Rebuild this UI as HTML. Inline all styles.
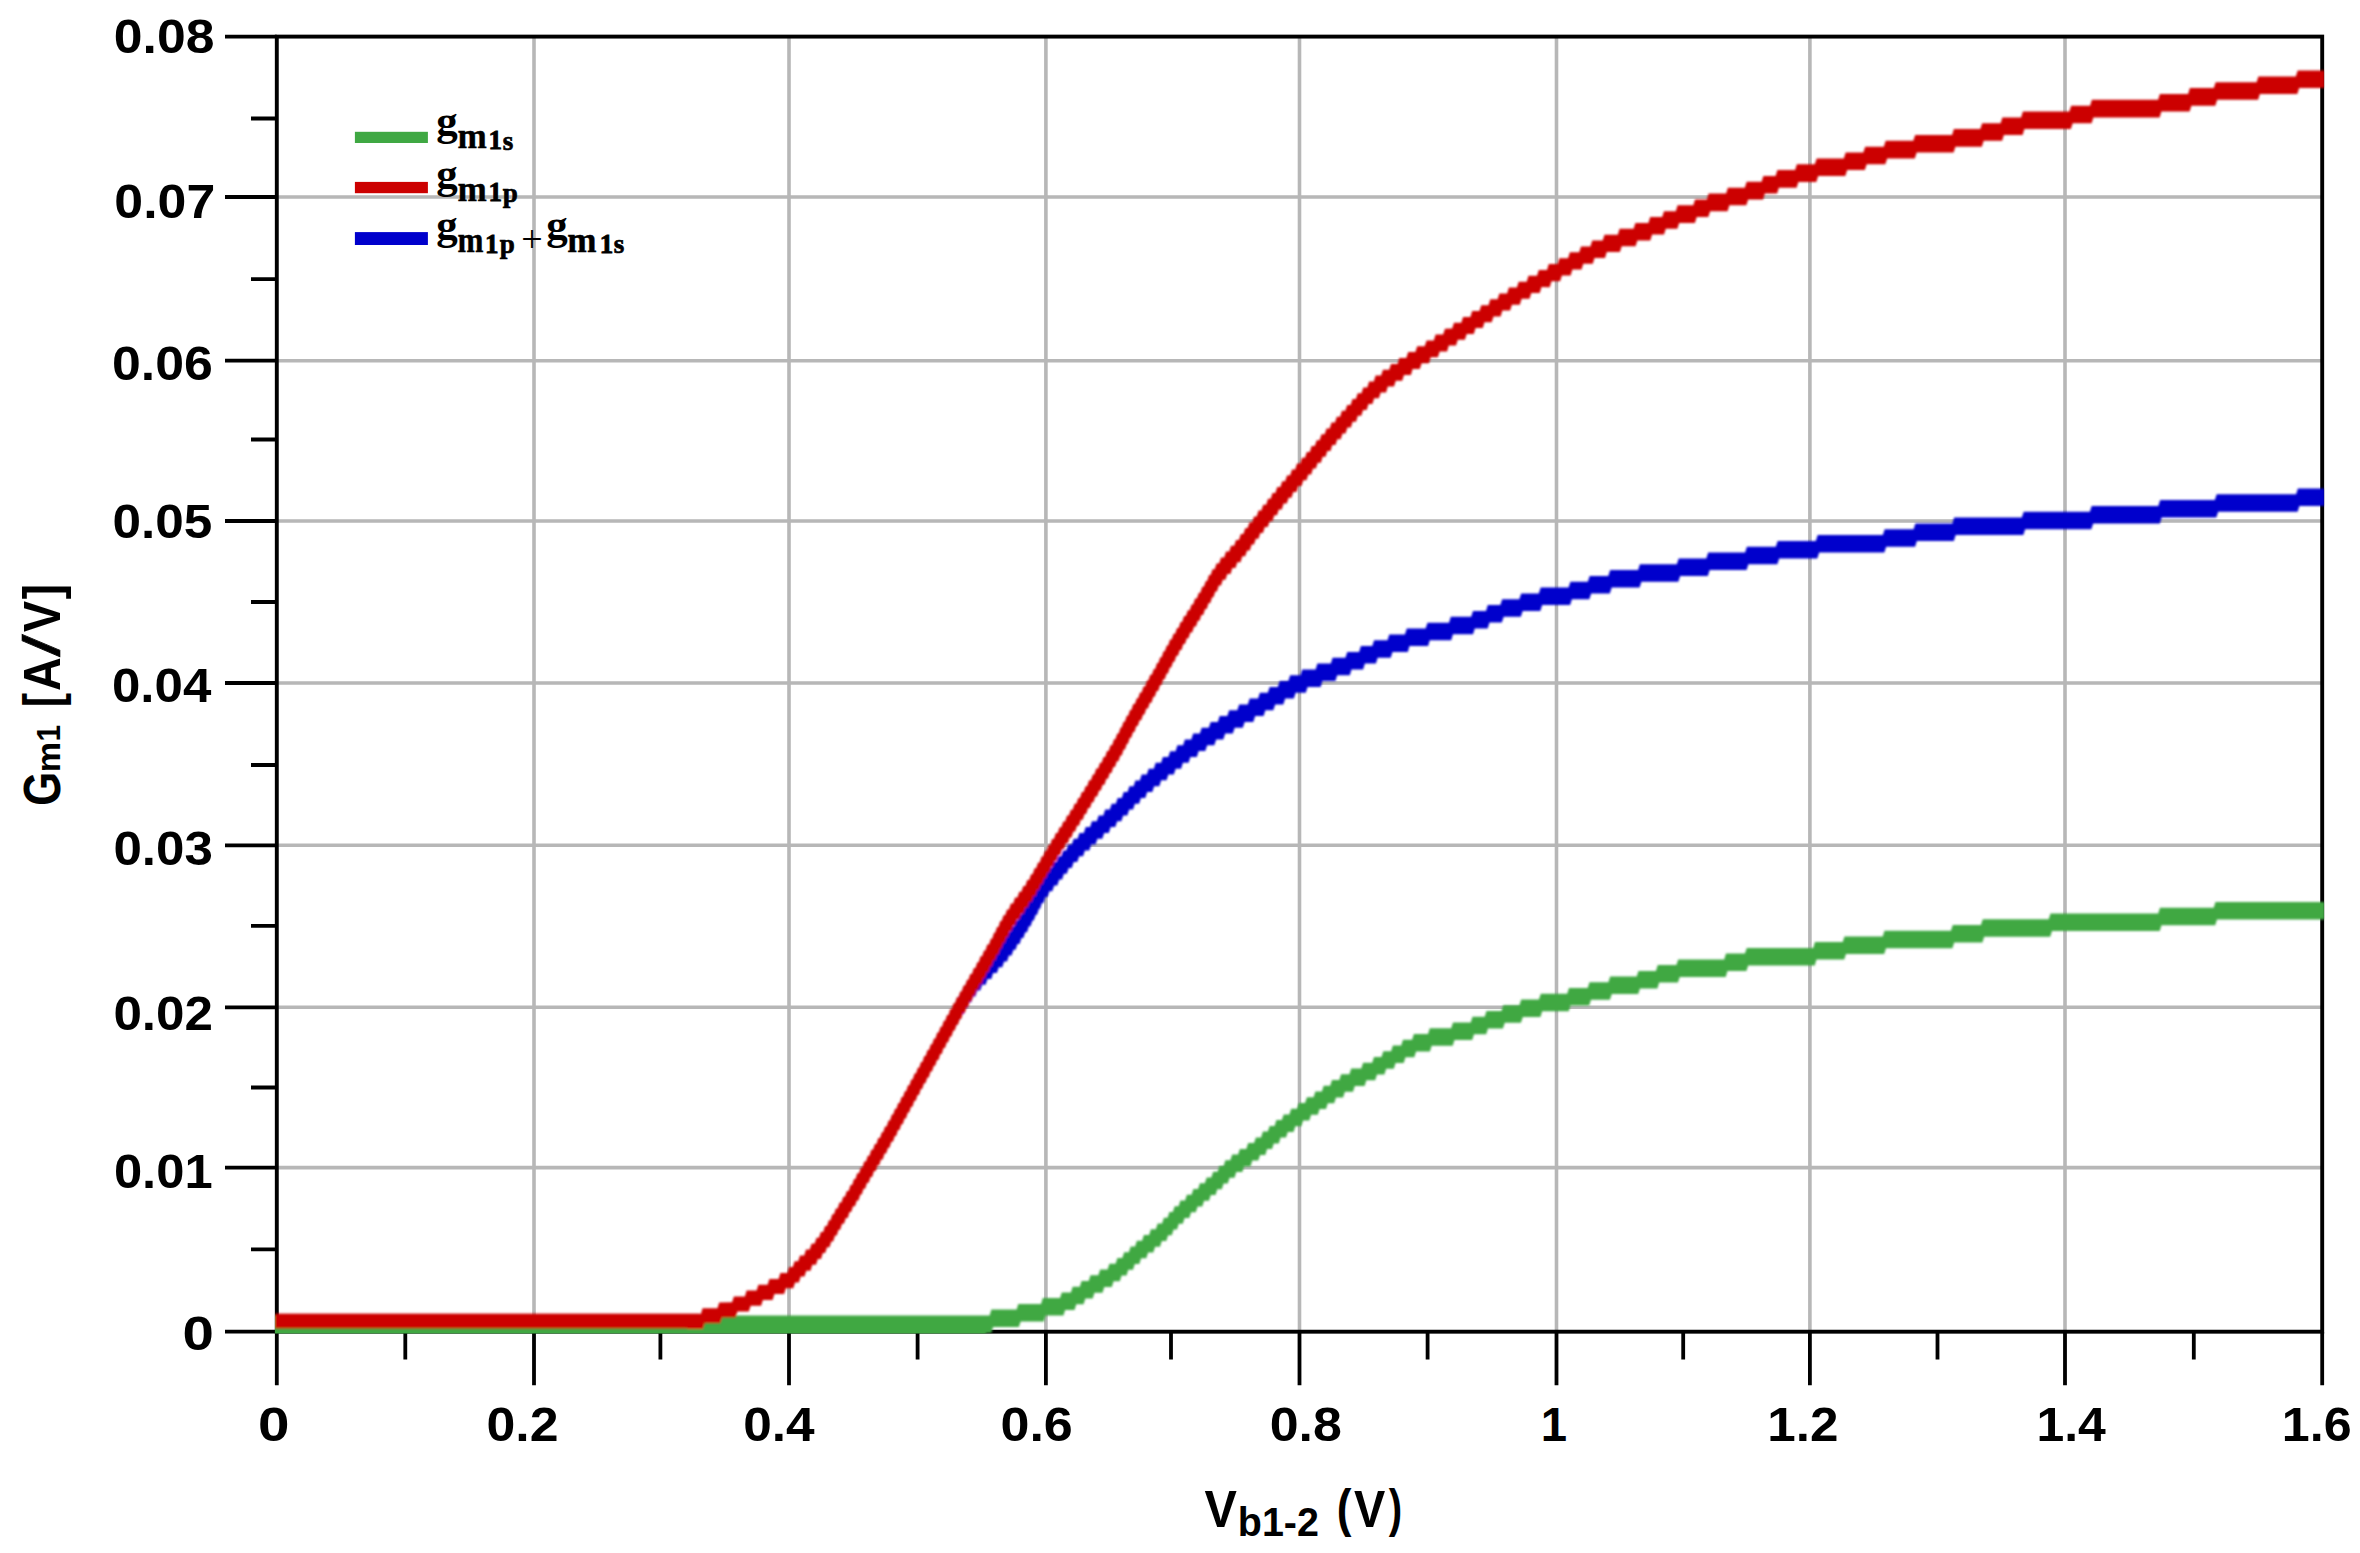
<!DOCTYPE html>
<html lang="en"><head><meta charset="utf-8"><title>Gm1 vs Vb1-2</title>
<style>html,body{margin:0;padding:0;background:#fff;overflow:hidden}svg{display:block}</style></head>
<body>
<svg width="2360" height="1553" viewBox="0 0 2360 1553">
<rect width="2360" height="1553" fill="#fff"/>
<defs><filter id="soft" x="0" y="0" width="2360" height="1553" filterUnits="userSpaceOnUse"><feGaussianBlur stdDeviation="1.1"/></filter><clipPath id="plot"><rect x="274.9" y="0" width="2049.3" height="1333.6"/></clipPath></defs>
<path d="M534 36.6 V1331.7 M789 36.6 V1331.7 M1045.9 36.6 V1331.7 M1299.5 36.6 V1331.7 M1556.5 36.6 V1331.7 M1809.9 36.6 V1331.7 M2065 36.6 V1331.7 M276.8 197 H2322.2 M276.8 360.7 H2322.2 M276.8 521 H2322.2 M276.8 683 H2322.2 M276.8 845.3 H2322.2 M276.8 1007.3 H2322.2 M276.8 1167.6 H2322.2" stroke="#b7b7b7" stroke-width="3.6" fill="none"/>
<rect x="276.8" y="36.6" width="2045.4" height="1295.1" fill="none" stroke="#000" stroke-width="3.9"/>
<path d="M225 36.6 H276.8 M225 197 H276.8 M225 360.7 H276.8 M225 521 H276.8 M225 683 H276.8 M225 845.3 H276.8 M225 1007.3 H276.8 M225 1167.6 H276.8 M225 1331.7 H276.8 M251 118.5 H276.8 M251 279.1 H276.8 M251 439.5 H276.8 M251 602 H276.8 M251 765 H276.8 M251 925.8 H276.8 M251 1087.5 H276.8 M251 1249.4 H276.8 M276.8 1331.7 V1385.3 M534 1331.7 V1385.3 M789 1331.7 V1385.3 M1045.9 1331.7 V1385.3 M1299.5 1331.7 V1385.3 M1556.5 1331.7 V1385.3 M1809.9 1331.7 V1385.3 M2065 1331.7 V1385.3 M2322.2 1331.7 V1385.3 M405.3 1331.7 V1359.5 M660.4 1331.7 V1359.5 M917.6 1331.7 V1359.5 M1171 1331.7 V1359.5 M1427.6 1331.7 V1359.5 M1683.2 1331.7 V1359.5 M1937.5 1331.7 V1359.5 M2193.8 1331.7 V1359.5" stroke="#000" stroke-width="3.8" fill="none"/>
<g clip-path="url(#plot)"><g filter="url(#soft)">
<path d="M269.1 1332.9 L269.1 1315.4 L989.6 1315.4 L991.4 1309.6 L1016.6 1309.6 L1018.3 1303.9 L1041 1303.9 L1042.8 1298.1 L1060 1298.1 L1061.8 1292.4 L1070.9 1292.4 L1072.7 1286.7 L1079.8 1286.7 L1081.6 1280.9 L1088.7 1280.9 L1090.5 1275.2 L1098.3 1275.2 L1100.2 1269.4 L1107.6 1269.4 L1109.4 1263.7 L1115.6 1263.7 L1117.4 1258 L1122.3 1258 L1124.2 1252.2 L1128.8 1252.2 L1130.7 1246.5 L1135.1 1246.5 L1136.9 1240.7 L1142.1 1240.7 L1143.9 1235 L1149.1 1235 L1150.9 1229.2 L1155.8 1229.2 L1157.7 1223.5 L1162.1 1223.5 L1163.9 1217.8 L1167.6 1217.8 L1169.4 1212 L1172.8 1212 L1174.7 1206.3 L1178.6 1206.3 L1180.4 1200.5 L1185.1 1200.5 L1186.9 1194.8 L1191.6 1194.8 L1193.4 1189.1 L1198.1 1189.1 L1199.9 1183.3 L1204.8 1183.3 L1206.7 1177.6 L1211.3 1177.6 L1213.2 1171.8 L1217.6 1171.8 L1219.4 1166.1 L1223.6 1166.1 L1225.4 1160.3 L1230.3 1160.3 L1232.2 1154.6 L1238.1 1154.6 L1239.9 1148.9 L1246.3 1148.9 L1248.2 1143.1 L1254.1 1143.1 L1255.9 1137.4 L1261.1 1137.4 L1262.9 1131.6 L1267.8 1131.6 L1269.7 1125.9 L1274.6 1125.9 L1276.4 1120.1 L1281.8 1120.1 L1283.7 1114.4 L1289.3 1114.4 L1291.2 1108.7 L1297.1 1108.7 L1298.9 1102.9 L1305.1 1102.9 L1306.9 1097.2 L1313.6 1097.2 L1315.4 1091.4 L1321.9 1091.4 L1323.7 1085.7 L1330.2 1085.7 L1332 1080 L1339.3 1080 L1341.1 1074.2 L1349.4 1074.2 L1351.2 1068.5 L1361.3 1068.5 L1363.1 1062.7 L1372.2 1062.7 L1374 1057 L1381.5 1057 L1383.3 1051.2 L1391.1 1051.2 L1392.9 1045.5 L1401.2 1045.5 L1403 1039.8 L1412.1 1039.8 L1413.9 1034 L1428 1034 L1429.8 1028.3 L1451.2 1028.3 L1453 1022.5 L1470.7 1022.5 L1472.5 1016.8 L1484.7 1016.8 L1486.5 1011 L1501.4 1011 L1503.2 1005.3 L1519.4 1005.3 L1521.2 999.6 L1538.9 999.6 L1540.8 993.8 L1567.2 993.8 L1569 988.1 L1587.7 988.1 L1589.5 982.3 L1608.4 982.3 L1610.2 976.6 L1636.7 976.6 L1638.5 970.9 L1655.9 970.9 L1657.8 965.1 L1676.4 965.1 L1678.2 959.4 L1724.2 959.4 L1726 953.6 L1744.9 953.6 L1746.8 947.9 L1813.2 947.9 L1815 942.1 L1842.7 942.1 L1844.5 936.4 L1882.7 936.4 L1884.5 930.7 L1950.9 930.7 L1952.8 924.9 L1980.9 924.9 L1982.8 919.2 L2048.7 919.2 L2050.5 913.4 L2158.2 913.4 L2160 907.7 L2213.7 907.7 L2215.5 902 L2323.3 902 L2324.8 902 L2324.8 919.5 L2217 919.5 L2215.2 925.2 L2161.5 925.2 L2159.7 930.9 L2052 930.9 L2050.2 936.7 L1984.2 936.7 L1982.4 942.4 L1954.2 942.4 L1952.4 948.2 L1886 948.2 L1884.2 953.9 L1846 953.9 L1844.2 959.6 L1816.5 959.6 L1814.7 965.4 L1748.2 965.4 L1746.4 971.1 L1727.5 971.1 L1725.7 976.9 L1679.8 976.9 L1677.9 982.6 L1659.2 982.6 L1657.4 988.4 L1640 988.4 L1638.2 994.1 L1611.8 994.1 L1609.9 999.8 L1591 999.8 L1589.2 1005.6 L1570.5 1005.6 L1568.7 1011.3 L1542.2 1011.3 L1540.4 1017.1 L1522.8 1017.1 L1520.9 1022.8 L1504.8 1022.8 L1502.9 1028.5 L1488 1028.5 L1486.2 1034.3 L1474 1034.3 L1472.2 1040 L1454.5 1040 L1452.7 1045.8 L1431.7 1045.8 L1429.9 1051.5 L1416.1 1051.5 L1414.3 1057.3 L1405.5 1057.3 L1403.7 1063 L1395.6 1063 L1393.8 1068.7 L1386.2 1068.7 L1384.4 1074.5 L1377 1074.5 L1375.2 1080.2 L1366.4 1080.2 L1364.6 1086 L1354.8 1086 L1353 1091.7 L1344.9 1091.7 L1343.1 1097.5 L1336 1097.5 L1334.2 1103.2 L1327.8 1103.2 L1326 1108.9 L1319.6 1108.9 L1317.8 1114.7 L1311.1 1114.7 L1309.3 1120.4 L1303.1 1120.4 L1301.3 1126.2 L1295.3 1126.2 L1293.5 1131.9 L1287.8 1131.9 L1286 1137.6 L1280.6 1137.6 L1278.8 1143.4 L1273.8 1143.4 L1272 1149.1 L1267.1 1149.1 L1265.3 1154.9 L1260.1 1154.9 L1258.3 1160.6 L1252.3 1160.6 L1250.5 1166.4 L1244.1 1166.4 L1242.3 1172.1 L1236.3 1172.1 L1234.5 1177.8 L1229.6 1177.8 L1227.8 1183.6 L1223.6 1183.6 L1221.8 1189.3 L1217.3 1189.3 L1215.5 1195.1 L1210.8 1195.1 L1209 1200.8 L1204.1 1200.8 L1202.3 1206.6 L1197.6 1206.6 L1195.8 1212.3 L1191.1 1212.3 L1189.3 1218 L1184.6 1218 L1182.8 1223.8 L1178.8 1223.8 L1177 1229.5 L1173.6 1229.5 L1171.8 1235.3 L1168.1 1235.3 L1166.3 1241 L1161.8 1241 L1160 1246.7 L1155.1 1246.7 L1153.3 1252.5 L1148.1 1252.5 L1146.3 1258.2 L1141.1 1258.2 L1139.3 1264 L1134.8 1264 L1133 1269.7 L1128.3 1269.7 L1126.5 1275.5 L1121.6 1275.5 L1119.8 1281.2 L1113.6 1281.2 L1111.8 1286.9 L1104.3 1286.9 L1102.5 1292.7 L1094.5 1292.7 L1092.7 1298.4 L1085.4 1298.4 L1083.6 1304.2 L1076.3 1304.2 L1074.5 1309.9 L1065.2 1309.9 L1063.4 1315.6 L1045.7 1315.6 L1043.9 1321.4 L1020.7 1321.4 L1018.8 1327.1 L993.1 1327.1 L991.3 1332.9 L270.6 1332.9Z" fill="#3fa843"/>
<rect x="268.9" y="1326" width="717.1" height="12" fill="#3fa843"/>
<path d="M953.5 1025.6 L953.5 1008.1 L953.4 1008.1 L955.1 1002.3 L956.8 1002.3 L958.5 996.4 L960.4 996.4 L962.2 990.6 L963.8 990.6 L965.6 984.8 L967.5 984.8 L969.2 978.9 L971.3 978.9 L973.1 973.1 L976 973.1 L977.7 967.2 L981.1 967.2 L982.8 961.4 L986.4 961.4 L988.2 955.5 L991.8 955.5 L993.5 949.7 L996.9 949.7 L998.6 943.9 L1001.6 943.9 L1003.4 938 L1006.1 938 L1007.9 932.2 L1010.1 932.2 L1011.9 926.4 L1014.1 926.4 L1015.9 920.5 L1017.9 920.5 L1019.6 914.7 L1021.6 914.7 L1023.4 908.8 L1025.1 908.8 L1026.9 903 L1028.3 903 L1030.2 897.2 L1031.6 897.2 L1033.4 891.3 L1034.6 891.3 L1036.4 885.5 L1038.1 885.5 L1039.9 879.6 L1042.1 879.6 L1043.9 873.8 L1046.8 873.8 L1048.7 868 L1051.8 868 L1053.7 862.1 L1056.6 862.1 L1058.4 856.3 L1061.3 856.3 L1063.2 850.4 L1066.3 850.4 L1068.2 844.6 L1071.8 844.6 L1073.7 838.8 L1077.6 838.8 L1079.4 832.9 L1083.8 832.9 L1085.7 827.1 L1090.1 827.1 L1091.9 821.2 L1096.8 821.2 L1098.7 815.4 L1103.3 815.4 L1105.2 809.5 L1109.8 809.5 L1111.7 803.7 L1115.8 803.7 L1117.7 797.9 L1121.8 797.9 L1123.7 792 L1127.6 792 L1129.4 786.2 L1133.6 786.2 L1135.4 780.4 L1139.8 780.4 L1141.7 774.5 L1146.8 774.5 L1148.7 768.7 L1153.8 768.7 L1155.7 762.8 L1161.1 762.8 L1162.9 757 L1168.3 757 L1170.2 751.2 L1175.6 751.2 L1177.4 745.3 L1183.1 745.3 L1184.9 739.5 L1191.3 739.5 L1193.2 733.6 L1199.8 733.6 L1201.7 727.8 L1208.8 727.8 L1210.7 722 L1217.8 722 L1219.7 716.1 L1227.3 716.1 L1229.2 710.3 L1237.3 710.3 L1239.2 704.4 L1247.8 704.4 L1249.7 698.6 L1258.1 698.6 L1259.9 692.8 L1267.8 692.8 L1269.7 686.9 L1277.8 686.9 L1279.7 681.1 L1288.3 681.1 L1290.2 675.2 L1300.4 675.2 L1302.2 669.4 L1315.6 669.4 L1317.4 663.5 L1330.8 663.5 L1332.6 657.7 L1345.4 657.7 L1347.3 651.9 L1359.1 651.9 L1360.9 646 L1372.3 646 L1374.1 640.2 L1387.5 640.2 L1389.3 634.4 L1404.9 634.4 L1406.8 628.5 L1425.6 628.5 L1427.5 622.7 L1449 622.7 L1450.8 616.8 L1471.2 616.8 L1473 611 L1486 611 L1487.8 605.1 L1500.3 605.1 L1502.2 599.3 L1519.3 599.3 L1521.2 593.5 L1538.8 593.5 L1540.7 587.6 L1568.6 587.6 L1570.4 581.8 L1587.8 581.8 L1589.7 576 L1608.3 576 L1610.2 570.1 L1638.1 570.1 L1639.9 564.3 L1676.8 564.3 L1678.7 558.4 L1706.3 558.4 L1708.2 552.6 L1745.1 552.6 L1746.9 546.8 L1775.8 546.8 L1777.7 540.9 L1815.8 540.9 L1817.7 535.1 L1882.8 535.1 L1884.7 529.2 L1913.6 529.2 L1915.4 523.4 L1952.3 523.4 L1954.2 517.6 L2021.8 517.6 L2023.7 511.7 L2089.8 511.7 L2091.7 505.9 L2158.3 505.9 L2160.2 500 L2214.8 500 L2216.7 494.2 L2296.1 494.2 L2297.9 488.4 L2323.2 488.4 L2324.8 488.4 L2324.8 505.9 L2299.4 505.9 L2297.6 511.7 L2218.2 511.7 L2216.3 517.5 L2161.7 517.5 L2159.8 523.4 L2093.2 523.4 L2091.3 529.2 L2025.2 529.2 L2023.3 535.1 L1955.7 535.1 L1953.8 540.9 L1916.9 540.9 L1915.1 546.7 L1886.2 546.7 L1884.3 552.6 L1819.2 552.6 L1817.3 558.4 L1779.2 558.4 L1777.3 564.2 L1748.4 564.2 L1746.6 570.1 L1709.7 570.1 L1707.8 575.9 L1680.2 575.9 L1678.3 581.8 L1641.4 581.8 L1639.6 587.6 L1611.7 587.6 L1609.8 593.5 L1591.2 593.5 L1589.3 599.3 L1571.9 599.3 L1570.1 605.1 L1542.2 605.1 L1540.3 611 L1522.7 611 L1520.8 616.8 L1503.7 616.8 L1501.8 622.6 L1489.5 622.6 L1487.7 628.5 L1474.8 628.5 L1473 634.3 L1453 634.3 L1451.2 640.2 L1429.8 640.2 L1428.1 646 L1409.5 646 L1407.8 651.9 L1392.5 651.9 L1390.7 657.7 L1377.7 657.7 L1375.9 663.5 L1364.9 663.5 L1363.1 669.4 L1351.5 669.4 L1349.8 675.2 L1337.2 675.2 L1335.4 681 L1322.4 681 L1320.6 686.9 L1307.6 686.9 L1305.8 692.7 L1295.7 692.7 L1293.8 698.6 L1285.2 698.6 L1283.3 704.4 L1275.2 704.4 L1273.3 710.2 L1265.4 710.2 L1263.6 716.1 L1255.2 716.1 L1253.3 721.9 L1244.7 721.9 L1242.8 727.8 L1234.7 727.8 L1232.8 733.6 L1225.2 733.6 L1223.3 739.5 L1216.2 739.5 L1214.3 745.3 L1207.2 745.3 L1205.3 751.1 L1198.7 751.1 L1196.8 757 L1190.4 757 L1188.6 762.8 L1182.9 762.8 L1181.1 768.7 L1175.7 768.7 L1173.8 774.5 L1168.4 774.5 L1166.6 780.3 L1161.2 780.3 L1159.3 786.2 L1154.2 786.2 L1152.3 792 L1147.2 792 L1145.3 797.9 L1140.9 797.9 L1139.1 803.7 L1134.9 803.7 L1133.1 809.5 L1129.2 809.5 L1127.3 815.4 L1123.2 815.4 L1121.3 821.2 L1117.2 821.2 L1115.3 827 L1110.7 827 L1108.8 832.9 L1104.2 832.9 L1102.3 838.7 L1097.4 838.7 L1095.6 844.6 L1091.2 844.6 L1089.3 850.4 L1084.9 850.4 L1083.1 856.2 L1079.2 856.2 L1077.3 862.1 L1073.7 862.1 L1071.8 867.9 L1068.7 867.9 L1066.8 873.8 L1063.9 873.8 L1062.1 879.6 L1059.2 879.6 L1057.3 885.5 L1054.2 885.5 L1052.3 891.3 L1049.4 891.3 L1047.6 897.1 L1045.4 897.1 L1043.6 903 L1041.9 903 L1040.1 908.8 L1038.9 908.8 L1037.1 914.7 L1035.7 914.7 L1033.8 920.5 L1032.4 920.5 L1030.6 926.3 L1028.9 926.3 L1027.1 932.2 L1025.2 932.2 L1023.4 938 L1021.4 938 L1019.6 943.9 L1017.4 943.9 L1015.6 949.7 L1013.4 949.7 L1011.6 955.5 L1008.9 955.5 L1007.1 961.4 L1004.1 961.4 L1002.3 967.2 L998.8 967.2 L996.9 973 L993.1 973 L991.3 978.9 L987.5 978.9 L985.6 984.7 L982.1 984.7 L980.2 990.6 L977.2 990.6 L975.4 996.4 L973.1 996.4 L971.2 1002.2 L969.2 1002.2 L967.4 1008.1 L965.6 1008.1 L963.8 1013.9 L961.8 1013.9 L959.9 1019.8 L958.2 1019.8 L956.4 1025.6 L956.5 1025.6Z" fill="#0000cc"/>
<rect x="274.9" y="1313.6" width="425.1" height="14.8" fill="#cc0000"/>
<path d="M687.2 1329.1 L687.2 1314.1 L700.8 1314.1 L702.6 1308.2 L717.5 1308.2 L719.2 1302.4 L732.1 1302.3 L733.9 1296.5 L744.9 1296.5 L746.6 1290.6 L756.6 1290.6 L758.4 1284.7 L767.6 1284.7 L769.4 1278.9 L778.6 1278.9 L780.4 1273 L787.4 1273 L789.2 1267.1 L792.8 1267.1 L794.6 1261.3 L798.2 1261.2 L800 1255.4 L804.2 1255.4 L806 1249.5 L809.7 1249.5 L811.5 1243.7 L814.7 1243.6 L816.5 1237.8 L819 1237.8 L820.8 1231.9 L823.2 1231.9 L825 1226.1 L827 1226.1 L828.8 1220.2 L830.5 1220.2 L832.2 1214.3 L834 1214.3 L835.8 1208.5 L837.7 1208.5 L839.5 1202.6 L841.5 1202.6 L843.2 1196.7 L845 1196.7 L846.8 1190.9 L848.7 1190.9 L850.5 1185 L852.2 1185 L854 1179.1 L855.5 1179.1 L857.2 1173.3 L859 1173.3 L860.8 1167.4 L862.5 1167.4 L864.2 1161.5 L866 1161.5 L867.8 1155.7 L869.5 1155.7 L871.2 1149.8 L873 1149.8 L874.8 1144 L876.5 1144 L878.2 1138.1 L880 1138.1 L881.8 1132.2 L883.2 1132.2 L885 1126.4 L886.7 1126.4 L888.5 1120.5 L890 1120.5 L891.8 1114.6 L893.2 1114.6 L895 1108.8 L896.5 1108.8 L898.2 1102.9 L899.7 1102.9 L901.5 1097 L903 1097 L904.8 1091.2 L906.2 1091.2 L908 1085.3 L909.5 1085.3 L911.2 1079.5 L912.7 1079.4 L914.5 1073.6 L916 1073.6 L917.8 1067.7 L919.2 1067.7 L921 1061.9 L922.5 1061.9 L924.2 1056 L925.7 1056 L927.5 1050.1 L929 1050.1 L930.8 1044.3 L932.2 1044.3 L934 1038.4 L935.5 1038.4 L937.2 1032.5 L938.7 1032.5 L940.5 1026.7 L942 1026.7 L943.8 1020.8 L945.2 1020.8 L947 1014.9 L948.5 1014.9 L950.2 1009.1 L951.7 1009.1 L953.5 1003.2 L955 1003.2 L956.8 997.3 L958.5 997.3 L960.2 991.5 L961.7 991.5 L963.5 985.6 L965.2 985.6 L967 979.8 L968.5 979.8 L970.2 973.9 L972 973.9 L973.8 968 L975.5 968 L977.2 962.2 L978.7 962.2 L980.5 956.3 L982.2 956.3 L984 950.4 L985.5 950.4 L987.2 944.6 L989 944.6 L990.8 938.7 L992.2 938.7 L994 932.8 L995.2 932.8 L997 927 L998.5 927 L1000.2 921.1 L1001.7 921.1 L1003.5 915.2 L1005.2 915.2 L1007 909.4 L1009 909.4 L1010.8 903.5 L1013.2 903.5 L1015 897.6 L1017.5 897.6 L1019.2 891.8 L1021.4 891.8 L1023.3 885.9 L1025.4 885.9 L1027.2 880.1 L1029.2 880 L1031 874.2 L1032.7 874.2 L1034.5 868.3 L1036.2 868.3 L1038 862.5 L1039.7 862.5 L1041.5 856.6 L1043.2 856.6 L1045 850.7 L1046.7 850.7 L1048.5 844.9 L1050.2 844.9 L1052 839 L1053.9 839 L1055.8 833.1 L1057.7 833.1 L1059.5 827.3 L1061.4 827.3 L1063.2 821.4 L1065.2 821.4 L1067 815.5 L1068.9 815.5 L1070.8 809.7 L1072.7 809.7 L1074.5 803.8 L1076.4 803.8 L1078.2 797.9 L1079.9 797.9 L1081.8 792.1 L1083.7 792.1 L1085.5 786.2 L1087.2 786.2 L1089 780.3 L1090.9 780.3 L1092.8 774.5 L1094.4 774.5 L1096.2 768.6 L1098.2 768.6 L1100 762.8 L1101.7 762.7 L1103.5 756.9 L1105.2 756.9 L1107 751 L1108.7 751 L1110.5 745.2 L1112.2 745.2 L1114 739.3 L1115.4 739.3 L1117.2 733.4 L1118.7 733.4 L1120.5 727.6 L1121.7 727.6 L1123.5 721.7 L1124.9 721.7 L1126.8 715.8 L1128.2 715.8 L1130 710 L1131.4 710 L1133.2 704.1 L1134.9 704.1 L1136.8 698.2 L1138.2 698.2 L1140 692.4 L1141.7 692.4 L1143.5 686.5 L1145.2 686.5 L1147 680.6 L1148.4 680.6 L1150.2 674.8 L1151.9 674.8 L1153.8 668.9 L1155.2 668.9 L1157 663.1 L1158.4 663.1 L1160.2 657.2 L1161.7 657.2 L1163.5 651.3 L1164.9 651.3 L1166.8 645.5 L1168.2 645.5 L1170 639.6 L1171.7 639.6 L1173.5 633.7 L1175.2 633.7 L1177 627.9 L1178.7 627.9 L1180.5 622 L1182.2 622 L1184 616.1 L1185.9 616.1 L1187.8 610.3 L1189.7 610.3 L1191.5 604.4 L1193.2 604.4 L1195 598.5 L1196.9 598.5 L1198.8 592.7 L1200.4 592.7 L1202.2 586.8 L1203.9 586.8 L1205.8 580.9 L1207.2 580.9 L1209 575.1 L1210.7 575.1 L1212.5 569.2 L1214.7 569.2 L1216.5 563.4 L1219.2 563.3 L1221 557.5 L1224.2 557.5 L1226 551.6 L1229.2 551.6 L1231 545.8 L1234.2 545.7 L1236 539.9 L1238.9 539.9 L1240.8 534 L1243.4 534 L1245.2 528.2 L1247.7 528.1 L1249.5 522.3 L1252.2 522.3 L1254 516.4 L1256.7 516.4 L1258.5 510.6 L1261.4 510.5 L1263.2 504.7 L1266.2 504.7 L1268 498.8 L1270.7 498.8 L1272.5 493 L1275.4 492.9 L1277.2 487.1 L1280.4 487.1 L1282.2 481.2 L1285.2 481.2 L1287 475.4 L1290.2 475.3 L1292 469.5 L1295.2 469.5 L1297 463.6 L1300.2 463.6 L1302 457.8 L1305 457.7 L1306.8 451.9 L1309.8 451.9 L1311.6 446 L1314.8 446 L1316.7 440.2 L1319.6 440.2 L1321.5 434.3 L1324.7 434.3 L1326.5 428.4 L1329.7 428.4 L1331.5 422.6 L1335 422.6 L1336.8 416.7 L1340.1 416.7 L1341.9 410.8 L1345.3 410.8 L1347.2 405 L1350.6 405 L1352.5 399.1 L1355.9 399.1 L1357.7 393.2 L1361.5 393.2 L1363.3 387.4 L1367.3 387.4 L1369.1 381.5 L1373.8 381.5 L1375.6 375.6 L1381.1 375.6 L1383 369.8 L1389.2 369.7 L1391 363.9 L1397.5 363.9 L1399.3 358 L1406.3 358 L1408.2 352.1 L1415.4 352.1 L1417.2 346.3 L1424.7 346.3 L1426.6 340.4 L1433.8 340.4 L1435.6 334.5 L1443.1 334.5 L1445 328.7 L1452.2 328.6 L1454 322.8 L1461.3 322.8 L1463.1 316.9 L1470.4 316.9 L1472.2 311 L1479.4 311 L1481.3 305.2 L1488.5 305.2 L1490.3 299.3 L1497.6 299.3 L1499.4 293.4 L1507.1 293.4 L1508.9 287.6 L1516.9 287.5 L1518.7 281.7 L1526.7 281.7 L1528.5 275.8 L1537 275.8 L1538.8 269.9 L1547 269.9 L1548.8 264.1 L1557.6 264.1 L1559.4 258.2 L1568.1 258.2 L1569.9 252.3 L1579.2 252.3 L1581 246.4 L1590.4 246.4 L1592.3 240.6 L1602.7 240.6 L1604.5 234.7 L1617.8 234.7 L1619.6 228.8 L1633.6 228.8 L1635.4 222.9 L1648.4 222.9 L1650.2 217.1 L1662.2 217 L1664 211.2 L1675.8 211.2 L1677.6 205.3 L1693.3 205.3 L1695.1 199.4 L1706.8 199.4 L1708.7 193.6 L1726.1 193.6 L1727.9 187.7 L1744.8 187.7 L1746.7 181.8 L1761.6 181.8 L1763.4 176 L1775.6 176 L1777.4 170.1 L1795.1 170.1 L1796.9 164.3 L1814.8 164.3 L1816.7 158.4 L1843.8 158.4 L1845.7 152.5 L1863.3 152.5 L1865.2 146.7 L1883.8 146.7 L1885.7 140.8 L1913.3 140.8 L1915.2 135 L1952.1 135 L1953.9 129.1 L1980.3 129.1 L1982.2 123.2 L2000.6 123.2 L2002.4 117.4 L2021.1 117.4 L2022.9 111.5 L2069.3 111.5 L2071.2 105.7 L2090.1 105.7 L2091.9 99.8 L2158.1 99.8 L2159.9 93.9 L2188.1 93.9 L2189.9 88.1 L2213.8 88.1 L2215.7 82.2 L2256.6 82.2 L2258.4 76.4 L2295.8 76.4 L2297.7 70.5 L2323.2 70.5 L2324.8 70.5 L2324.8 88.1 L2299.2 88.1 L2297.3 94 L2259.9 94 L2258.1 99.8 L2217.2 99.8 L2215.3 105.7 L2191.4 105.7 L2189.6 111.5 L2161.4 111.5 L2159.6 117.4 L2093.4 117.4 L2091.6 123.3 L2072.7 123.3 L2070.8 129.1 L2024.4 129.1 L2022.6 135 L2003.9 135 L2002.1 140.8 L1983.7 140.8 L1981.8 146.7 L1955.4 146.7 L1953.6 152.6 L1916.7 152.6 L1914.8 158.4 L1887.2 158.4 L1885.3 164.3 L1866.7 164.3 L1864.8 170.1 L1847.2 170.1 L1845.3 176 L1818.2 176 L1816.3 181.9 L1798.4 181.9 L1796.6 187.7 L1778.9 187.7 L1777.1 193.6 L1764.9 193.6 L1763.1 199.4 L1748.2 199.4 L1746.3 205.3 L1729.4 205.3 L1727.6 211.2 L1710.2 211.2 L1708.3 217 L1696.7 217 L1694.9 222.9 L1679.2 222.9 L1677.4 228.7 L1665.8 228.7 L1664 234.6 L1652.1 234.5 L1650.3 240.4 L1637.4 240.4 L1635.6 246.2 L1621.7 246.2 L1619.9 252.1 L1606.8 252.1 L1605 257.9 L1594.5 257.9 L1592.8 263.8 L1583.3 263.8 L1581.5 269.6 L1572.4 269.6 L1570.6 275.5 L1561.9 275.4 L1560.1 281.3 L1551.5 281.3 L1549.7 287.2 L1541.5 287.1 L1539.7 293 L1531.3 293 L1529.5 298.8 L1521.6 298.8 L1519.8 304.7 L1511.9 304.7 L1510.1 310.5 L1502.4 310.5 L1500.6 316.4 L1493.5 316.4 L1491.7 322.2 L1484.5 322.2 L1482.8 328.1 L1475.6 328.1 L1473.8 333.9 L1466.7 333.9 L1464.9 339.8 L1457.8 339.8 L1456 345.6 L1448.8 345.6 L1447.1 351.5 L1439.7 351.5 L1437.9 357.3 L1430.7 357.3 L1429 363.2 L1421.6 363.2 L1419.8 369 L1412.6 369 L1410.9 374.9 L1404 374.9 L1402.2 380.7 L1395.8 380.7 L1394 386.6 L1387.8 386.6 L1386.1 392.4 L1380.7 392.4 L1378.9 398.3 L1374.2 398.3 L1372.4 404.1 L1368.5 404.1 L1366.7 410 L1363.1 410 L1361.3 415.8 L1357.8 415.8 L1356.1 421.7 L1352.6 421.7 L1350.9 427.5 L1347.4 427.5 L1345.6 433.4 L1342.5 433.4 L1340.7 439.2 L1337.3 439.2 L1335.5 445.1 L1332.3 445.1 L1330.5 451 L1327.3 451 L1325.6 456.8 L1322.6 456.8 L1320.9 462.7 L1317.7 462.7 L1315.9 468.5 L1313 468.5 L1311.2 474.4 L1308.3 474.4 L1306.5 480.2 L1303.3 480.2 L1301.5 486.1 L1298.3 486.1 L1296.5 491.9 L1293.3 491.9 L1291.5 497.8 L1288.6 497.8 L1286.8 503.6 L1283.6 503.6 L1281.8 509.5 L1278.8 509.5 L1277 515.3 L1274.3 515.3 L1272.5 521.2 L1269.6 521.2 L1267.8 527.1 L1264.8 527 L1263 532.9 L1260.3 532.9 L1258.5 538.8 L1255.8 538.8 L1254 544.6 L1251.6 544.6 L1249.8 550.5 L1247.1 550.5 L1245.2 556.3 L1242.3 556.3 L1240.5 562.2 L1237.3 562.2 L1235.5 568 L1232.3 568 L1230.5 573.9 L1227.3 573.9 L1225.5 579.7 L1222.8 579.7 L1221 585.6 L1218.8 585.6 L1217 591.4 L1215.3 591.4 L1213.5 597.3 L1212.1 597.3 L1210.2 603.2 L1208.6 603.1 L1206.8 609 L1205.1 609 L1203.2 614.9 L1201.3 614.9 L1199.5 620.7 L1197.8 620.7 L1196 626.6 L1194.1 626.6 L1192.2 632.4 L1190.3 632.4 L1188.5 638.3 L1186.8 638.3 L1185 644.1 L1183.3 644.1 L1181.5 650 L1179.8 650 L1178 655.8 L1176.3 655.8 L1174.5 661.7 L1173.1 661.7 L1171.2 667.6 L1169.8 667.6 L1168 673.4 L1166.6 673.4 L1164.8 679.3 L1163.3 679.3 L1161.5 685.1 L1160.1 685.1 L1158.2 691 L1156.6 691 L1154.8 696.8 L1153.3 696.8 L1151.5 702.7 L1149.8 702.7 L1148 708.5 L1146.3 708.5 L1144.5 714.4 L1143.1 714.4 L1141.2 720.3 L1139.6 720.3 L1137.8 726.1 L1136.3 726.1 L1134.5 732 L1133.1 732 L1131.2 737.8 L1129.8 737.8 L1128 743.7 L1126.8 743.7 L1125 749.5 L1123.6 749.5 L1121.8 755.4 L1120.3 755.4 L1118.5 761.2 L1116.8 761.2 L1115 767.1 L1113.3 767.1 L1111.5 773 L1109.8 773 L1108 778.8 L1106.3 778.8 L1104.5 784.7 L1102.6 784.7 L1100.8 790.5 L1099.1 790.5 L1097.2 796.4 L1095.3 796.4 L1093.5 802.2 L1091.8 802.2 L1090 808.1 L1088.1 808.1 L1086.2 813.9 L1084.6 813.9 L1082.8 819.8 L1080.8 819.8 L1079 825.7 L1077.1 825.6 L1075.2 831.5 L1073.3 831.5 L1071.5 837.4 L1069.6 837.4 L1067.8 843.2 L1065.8 843.2 L1064 849.1 L1062.1 849.1 L1060.2 854.9 L1058.3 854.9 L1056.5 860.8 L1054.8 860.8 L1053 866.6 L1051.3 866.6 L1049.5 872.5 L1047.8 872.5 L1046 878.3 L1044.3 878.3 L1042.5 884.2 L1040.8 884.2 L1039 890.1 L1037.3 890.1 L1035.5 895.9 L1033.6 895.9 L1031.8 901.8 L1029.6 901.8 L1027.8 907.6 L1025.5 907.6 L1023.8 913.5 L1021.3 913.5 L1019.5 919.3 L1017 919.3 L1015.2 925.2 L1013.3 925.2 L1011.5 931 L1009.8 931 L1008 936.9 L1006.5 936.9 L1004.8 942.7 L1003.3 942.7 L1001.5 948.6 L1000.3 948.6 L998.5 954.5 L997 954.5 L995.2 960.3 L993.5 960.3 L991.8 966.2 L990.3 966.2 L988.5 972 L986.8 972 L985 977.9 L983.5 977.9 L981.8 983.7 L980 983.7 L978.2 989.6 L976.5 989.6 L974.8 995.4 L973.3 995.4 L971.5 1001.3 L969.8 1001.3 L968 1007.2 L966.5 1007.2 L964.8 1013 L963 1013 L961.2 1018.9 L959.8 1018.9 L958 1024.7 L956.5 1024.7 L954.8 1030.6 L953.3 1030.6 L951.5 1036.4 L950 1036.4 L948.2 1042.3 L946.8 1042.3 L945 1048.1 L943.5 1048.1 L941.8 1054 L940.3 1054 L938.5 1059.9 L937 1059.9 L935.2 1065.7 L933.8 1065.7 L932 1071.6 L930.5 1071.6 L928.8 1077.4 L927.3 1077.4 L925.5 1083.3 L924 1083.3 L922.2 1089.1 L920.8 1089.1 L919 1095 L917.5 1095 L915.8 1100.8 L914.3 1100.8 L912.5 1106.7 L911 1106.7 L909.2 1112.6 L907.8 1112.6 L906 1118.4 L904.5 1118.4 L902.8 1124.3 L901.3 1124.3 L899.5 1130.1 L898 1130.1 L896.2 1136 L894.8 1136 L893 1141.8 L891.3 1141.8 L889.5 1147.7 L888 1147.7 L886.2 1153.5 L884.5 1153.5 L882.8 1159.4 L881 1159.4 L879.2 1165.3 L877.5 1165.3 L875.8 1171.1 L874 1171.1 L872.2 1177 L870.5 1177 L868.8 1182.8 L867 1182.8 L865.2 1188.7 L863.5 1188.7 L861.8 1194.5 L860.3 1194.5 L858.5 1200.4 L856.8 1200.4 L855 1206.3 L853 1206.3 L851.2 1212.1 L849.5 1212.1 L847.8 1218 L845.8 1218 L844 1223.8 L842 1223.8 L840.2 1229.7 L838.5 1229.7 L836.8 1235.5 L835 1235.5 L833.2 1241.4 L831.3 1241.4 L829.5 1247.2 L827 1247.2 L825.2 1253.1 L822.8 1253.1 L821 1259 L817.8 1258.9 L816 1264.8 L812.3 1264.8 L810.5 1270.7 L806.3 1270.7 L804.5 1276.5 L800.7 1276.5 L798.9 1282.4 L795.1 1282.4 L793.3 1288.2 L785.9 1288.2 L784.1 1294.1 L774.4 1294.1 L772.6 1299.9 L762.9 1299.9 L761.1 1305.8 L750.7 1305.7 L748.8 1311.6 L737.4 1311.6 L735.6 1317.5 L722.1 1317.4 L720.2 1323.3 L704.7 1323.3 L702.9 1329.1 L688.8 1329.1Z" fill="#cc0000"/>
</g></g>
<g font-family="'Liberation Sans', Arial, sans-serif" font-weight="bold" fill="#000">
<text x="113.88" y="53.1" font-size="47.8" textLength="100.58" lengthAdjust="spacingAndGlyphs">0.08</text>
<text x="114.38" y="217.7" font-size="47.8" textLength="100.86" lengthAdjust="spacingAndGlyphs">0.07</text>
<text x="111.98" y="379.7" font-size="47.8" textLength="100.85" lengthAdjust="spacingAndGlyphs">0.06</text>
<text x="112.60" y="538" font-size="47.8" textLength="99.80" lengthAdjust="spacingAndGlyphs">0.05</text>
<text x="112.01" y="702" font-size="47.8" textLength="99.26" lengthAdjust="spacingAndGlyphs">0.04</text>
<text x="113.41" y="864.5" font-size="47.8" textLength="99.39" lengthAdjust="spacingAndGlyphs">0.03</text>
<text x="113.40" y="1030.2" font-size="47.8" textLength="99.61" lengthAdjust="spacingAndGlyphs">0.02</text>
<text x="113.92" y="1187.9" font-size="47.8" textLength="98.76" lengthAdjust="spacingAndGlyphs">0.01</text>
<text x="182.60" y="1350.3" font-size="47.8" textLength="31.36" lengthAdjust="spacingAndGlyphs">0</text>
<text x="257.99" y="1441.3" font-size="47.8" textLength="31.48" lengthAdjust="spacingAndGlyphs">0</text>
<text x="486.48" y="1441.3" font-size="47.8" textLength="72.05" lengthAdjust="spacingAndGlyphs">0.2</text>
<text x="743.20" y="1441.3" font-size="47.8" textLength="71.37" lengthAdjust="spacingAndGlyphs">0.4</text>
<text x="1000.47" y="1441.3" font-size="47.8" textLength="72.36" lengthAdjust="spacingAndGlyphs">0.6</text>
<text x="1269.67" y="1441.3" font-size="47.8" textLength="72.19" lengthAdjust="spacingAndGlyphs">0.8</text>
<text x="1540.87" y="1441.3" font-size="47.8" textLength="26.32" lengthAdjust="spacingAndGlyphs">1</text>
<text x="1767.23" y="1441.3" font-size="47.8" textLength="71.18" lengthAdjust="spacingAndGlyphs">1.2</text>
<text x="2036.51" y="1441.3" font-size="47.8" textLength="69.35" lengthAdjust="spacingAndGlyphs">1.4</text>
<text x="2281.79" y="1441.3" font-size="47.8" textLength="69.78" lengthAdjust="spacingAndGlyphs">1.6</text>
<text x="1204.51" y="1527" font-size="52" textLength="32.38" lengthAdjust="spacingAndGlyphs">V</text>
<text x="1237.84" y="1536.2" font-size="40.5" textLength="81.11" lengthAdjust="spacingAndGlyphs">b1-2</text>
<text x="1336.84" y="1525.9" font-size="52" textLength="14.71" lengthAdjust="spacingAndGlyphs">(</text>
<text x="1354.02" y="1527" font-size="52" textLength="31.26" lengthAdjust="spacingAndGlyphs">V</text>
<text x="1388.86" y="1525.9" font-size="52" textLength="13.41" lengthAdjust="spacingAndGlyphs">)</text>
<g transform="translate(60.0 806) rotate(-90)">
<text x="0.30" y="0" font-size="52" textLength="34.11" lengthAdjust="spacingAndGlyphs">G</text>
<text x="33.78" y="0" font-size="34" textLength="30.42" lengthAdjust="spacingAndGlyphs">m</text>
<text x="64.54" y="0" font-size="34" textLength="16.67" lengthAdjust="spacingAndGlyphs">1</text>
<text x="98.79" y="0" font-size="52" textLength="14.33" lengthAdjust="spacingAndGlyphs">[</text>
<text x="114.88" y="0" font-size="52" textLength="33.64" lengthAdjust="spacingAndGlyphs">A</text>
<text x="149.18" y="0" font-size="52" textLength="22.33" lengthAdjust="spacingAndGlyphs" font-weight="normal" stroke="#000" stroke-width="0.6">/</text>
<text x="173.92" y="0" font-size="52" textLength="31.06" lengthAdjust="spacingAndGlyphs">V</text>
<text x="206.85" y="0" font-size="52" textLength="15.33" lengthAdjust="spacingAndGlyphs">]</text>
</g>
</g>
<rect x="354.9" y="131.8" width="73" height="11.2" fill="#3fa843"/>
<rect x="354.9" y="181.9" width="73" height="11.3" fill="#cc0000"/>
<rect x="354.9" y="232.1" width="73" height="12.9" fill="#0000cc"/>
<g font-family="'Liberation Serif', 'Times New Roman', serif" font-weight="bold" fill="#000">
<text font-size="43"><tspan x="436.3" y="135.4">g</tspan><tspan x="457.4" y="148.3" font-size="35.5" textLength="29.3" lengthAdjust="spacingAndGlyphs" stroke="#000" stroke-width="0.4">m</tspan><tspan x="488.6" y="149.2" font-size="27" stroke="#000" stroke-width="0.9">1</tspan><tspan x="502.7" y="149.6" font-size="27" stroke="#000" stroke-width="0.7">s</tspan></text>
<text font-size="43"><tspan x="436.3" y="187.6">g</tspan><tspan x="457.4" y="200.5" font-size="35.5" textLength="29.3" lengthAdjust="spacingAndGlyphs" stroke="#000" stroke-width="0.4">m</tspan><tspan x="488.6" y="201.4" font-size="27" stroke="#000" stroke-width="0.9">1</tspan><tspan x="502.7" y="201.8" font-size="27" stroke="#000" stroke-width="0.7">p</tspan></text>
<text font-size="43"><tspan x="436.3" y="239.2">g</tspan><tspan x="457.4" y="252.1" font-size="35.5" textLength="26" lengthAdjust="spacingAndGlyphs" stroke="#000" stroke-width="0.4">m</tspan><tspan x="484.9" y="253" font-size="27" stroke="#000" stroke-width="0.9">1</tspan><tspan x="499.8" y="253.4" font-size="27" stroke="#000" stroke-width="0.7">p</tspan></text>
<text x="521.2" y="251.8" font-size="38" font-weight="normal">+</text>
<text font-size="43"><tspan x="546.2" y="239.2">g</tspan><tspan x="567.3" y="252.1" font-size="35.5" textLength="29.3" lengthAdjust="spacingAndGlyphs" stroke="#000" stroke-width="0.4">m</tspan><tspan x="599.8" y="253" font-size="27" stroke="#000" stroke-width="0.9">1</tspan><tspan x="613.8" y="253.4" font-size="27" stroke="#000" stroke-width="0.7">s</tspan></text>
</g>
</svg>
</body></html>
